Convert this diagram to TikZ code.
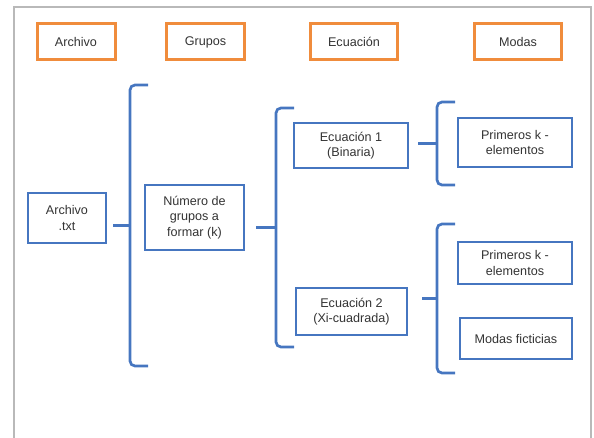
\documentclass[tikz,border=0pt]{standalone}
\usepackage{fontspec}
\setmainfont{Liberation Sans}
\usepackage{tikz}

\definecolor{boxblue}{RGB}{70,118,192}
\definecolor{boxorange}{RGB}{240,140,60}
\definecolor{framegray}{RGB}{185,185,185}

\begin{document}
\begin{tikzpicture}[x=1pt,y=-1pt,
    every node/.style={font=\fontsize{12.6}{15.5}\selectfont,text=black!80,align=center,inner sep=0pt},
    head/.style={draw=boxorange,line width=3pt,minimum width=78pt,minimum height=36pt},
    item/.style={draw=boxblue,line width=2.7pt},
    brace/.style={draw=boxblue,line width=2.7pt,rounded corners=5pt}]
  \useasboundingbox (0,0) rectangle (594,438);
  \draw[framegray,line width=2pt] (14,438) -- (14,7.5) -- (591,7.5) -- (591,438);

  % headings
  \node[head] (hArch) at (76,42) {Archivo};
  \node[head] (hGrup) at (205.5,42) {Grupos};
  \node[head,minimum width=87pt] (hEcua) at (354,42) {Ecuación};
  \node[head,minimum width=87pt] (hModa) at (518,42) {Modas};

  % boxes
  \node[item,minimum width=78pt,minimum height=50pt] (arch) at (67,218) {Archivo\\.txt};
  \node[item,minimum width=99pt,minimum height=65pt] (num) at (194.5,217.5) {Número de\\grupos a\\formar (k)};
  \node[item,minimum width=114pt,minimum height=45pt] (ecOne) at (351,145.5) {Ecuación 1\\(Binaria)};
  \node[item,minimum width=111pt,minimum height=47pt] (ecTwo) at (351.5,311.5) {Ecuación 2\\(Xi-cuadrada)};
  \node[item,minimum width=114pt,minimum height=49pt] (primA) at (515,142.5) {Primeros k -\\elementos};
  \node[item,minimum width=114pt,minimum height=42pt] (primB) at (515,263) {Primeros k -\\elementos};
  \node[item,minimum width=112pt,minimum height=41pt] (ficti) at (516,338.5) {Modas ficticias};

  % braces: x, top, bottom, tick start
  \foreach \bx/\btop/\bbot/\btick in {130/85/366/113, 276/108/347/256, 437/102/185/418, 437/224/373/422}
  {
    \draw[brace] (\bx+18,\btop) -- (\bx,\btop) -- (\bx,\bbot) -- (\bx+18,\bbot);
    \draw[boxblue,line width=2.7pt] (\btick,{(\btop+\bbot)/2}) -- (\bx,{(\btop+\bbot)/2});
  }
\end{tikzpicture}
\end{document}
